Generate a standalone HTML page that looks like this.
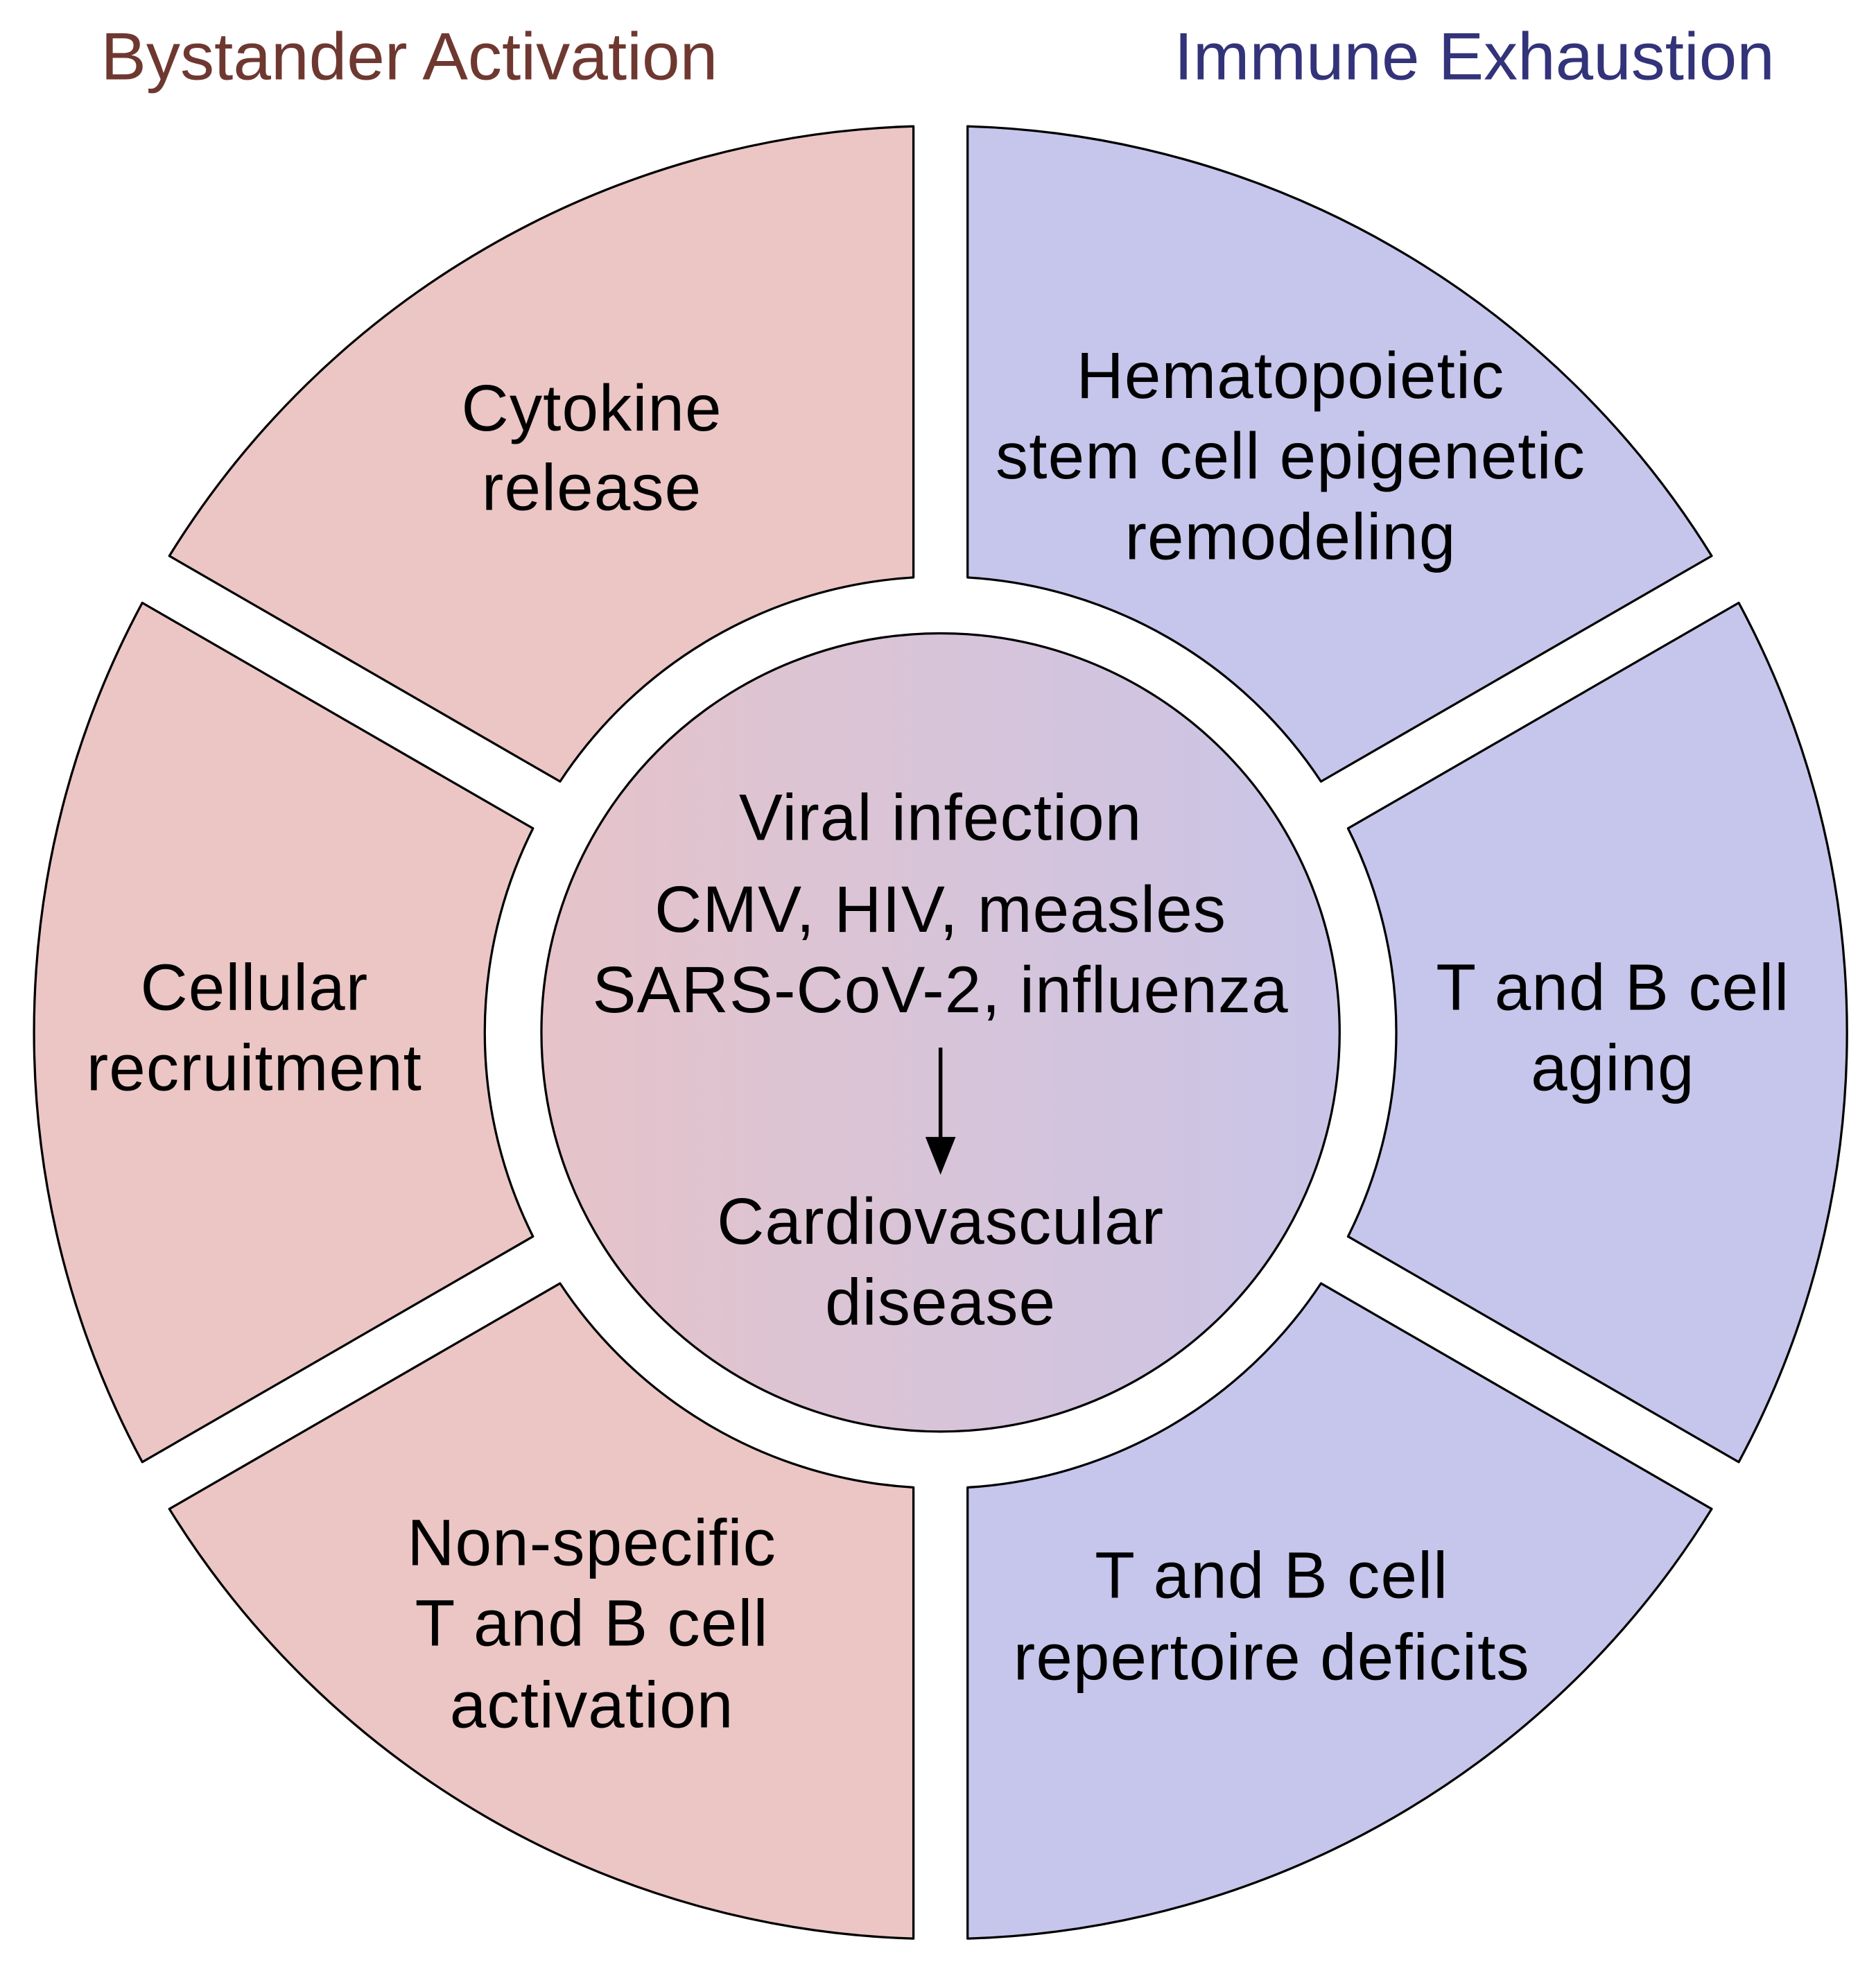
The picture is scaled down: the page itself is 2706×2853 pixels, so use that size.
<!DOCTYPE html>
<html><head><meta charset="utf-8"><style>html,body{margin:0;padding:0;background:#fff}svg{display:block}</style></head>
<body>
<svg width="2706" height="2853" viewBox="0 0 1490 1571" xmlns="http://www.w3.org/2000/svg" font-family="Liberation Sans, Arial, sans-serif">
<defs>
<linearGradient id="g" x1="0" x2="1" y1="0" y2="0">
<stop offset="0" stop-color="#e6c3c9"/><stop offset="1" stop-color="#c9c5e8"/>
</linearGradient>
</defs>
<rect width="1490" height="1571" fill="#fff"/>
<g stroke="#000" stroke-width="1.8" stroke-linejoin="round">
<path fill="#c6c6ec" d="M768.5,100.32 A720,720 0 0 1 1359.51,441.54 L1049.19,620.70 A362,362 0 0 0 768.5,458.64 Z"/>
<path fill="#c6c6ec" d="M1381.01,478.78 A720,720 0 0 1 1381.01,1161.22 L1070.69,982.06 A362,362 0 0 0 1070.69,657.94 Z"/>
<path fill="#c6c6ec" d="M1359.51,1198.46 A720,720 0 0 1 768.5,1539.68 L768.5,1181.36 A362,362 0 0 0 1049.19,1019.30 Z"/>
<path fill="#ebc6c5" d="M725.5,100.32 L725.5,458.64 A362,362 0 0 0 444.81,620.70 L134.49,441.54 A720,720 0 0 1 725.5,100.32 Z"/>
<path fill="#ebc6c5" d="M112.99,478.78 L423.31,657.94 A362,362 0 0 0 423.31,982.06 L112.99,1161.22 A720,720 0 0 1 112.99,478.78 Z"/>
<path fill="#ebc6c5" d="M134.49,1198.46 L444.81,1019.30 A362,362 0 0 0 725.5,1181.36 L725.5,1539.68 A720,720 0 0 1 134.49,1198.46 Z"/>
<circle cx="747" cy="820" r="317" fill="url(#g)"/>
</g>
<line x1="747" y1="832" x2="747" y2="910" stroke="#000" stroke-width="3"/>
<polygon points="735,903 759,903 747,933 " fill="#000"/>
<g font-size="53">
<text x="325" y="63" text-anchor="middle" fill="#6e3830" textLength="490" lengthAdjust="spacingAndGlyphs">Bystander Activation</text>
<text x="1171" y="63" text-anchor="middle" fill="#33337a" textLength="477" lengthAdjust="spacingAndGlyphs">Immune Exhaustion</text>
</g>
<g font-size="52" fill="#000" text-anchor="middle" letter-spacing="0.6">
<text x="470" y="342">Cytokine</text><text x="470" y="405">release</text>
<text x="1025" y="316">Hematopoietic</text><text x="1025" y="380">stem cell epigenetic</text><text x="1025" y="444">remodeling</text>
<text x="202" y="802">Cellular</text><text x="202" y="866">recruitment</text>
<text x="1281" y="802">T and B cell</text><text x="1281" y="866">aging</text>
<text x="470" y="1243">Non-specific</text><text x="470" y="1307">T and B cell</text><text x="470" y="1372">activation</text>
<text x="1010" y="1269">T and B cell</text><text x="1010" y="1334">repertoire deficits</text>
<text x="747" y="667">Viral infection</text>
<text x="747" y="740">CMV, HIV, measles</text>
<text x="747" y="804">SARS-CoV-2, influenza</text>
<text x="747" y="988">Cardiovascular</text>
<text x="747" y="1052">disease</text>
</g>
</svg>
</body></html>
